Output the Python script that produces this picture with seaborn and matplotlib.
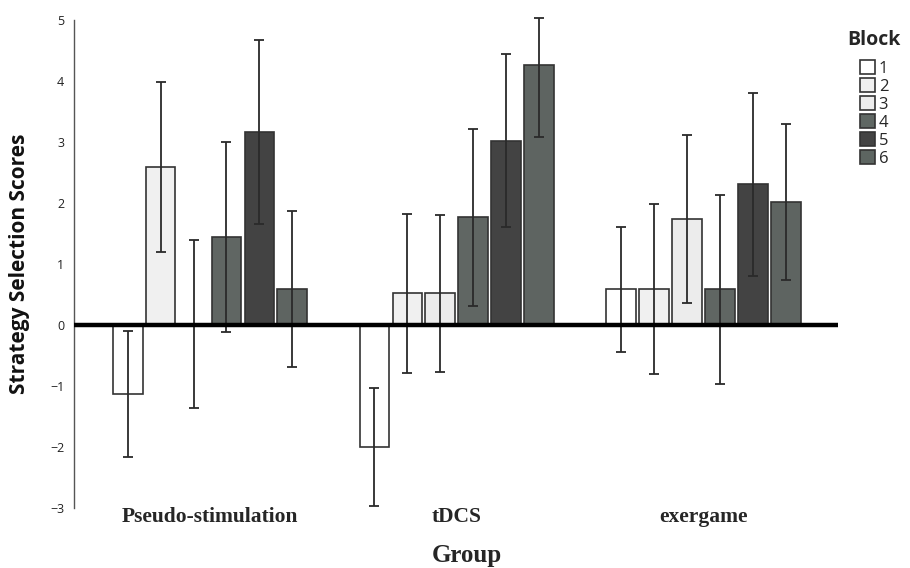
import numpy as np
import pandas as pd
import seaborn as sns
import matplotlib.pyplot as plt
from matplotlib.patches import Patch

# ---------------- data ----------------
groups = ["Pseudo-stimulation", "tDCS", "exergame"]
blocks = ["1", "2", "3", "4", "5", "6"]

pseudo_mean = [-1.13, 2.59, 0.00, 1.44, 3.16, 0.59]
tdcs_mean = [-2.00, 0.52, 0.52, 1.77, 3.02, 4.27]
exergame_mean = [0.59, 0.59, 1.74, 0.59, 2.31, 2.02]

pseudo_low = [-2.16, 1.20, -1.36, -0.11, 1.66, -0.69]
tdcs_low = [-2.97, -0.79, -0.77, 0.31, 1.61, 3.08]
exergame_low = [-0.44, -0.80, 0.36, -0.97, 0.80, 0.74]

pseudo_high = [-0.10, 3.98, 1.39, 3.00, 4.67, 1.87]
tdcs_high = [-1.03, 1.82, 1.80, 3.22, 4.44, 5.03]
exergame_high = [1.61, 1.98, 3.11, 2.13, 3.80, 3.30]

block_colors = ["#ffffff", "#f0f0f0", "#ececec", "#5f6763", "#434343", "#5d6561"]

means = [pseudo_mean, tdcs_mean, exergame_mean]
lows = [pseudo_low, tdcs_low, exergame_low]
highs = [pseudo_high, tdcs_high, exergame_high]

rows = []
for g, m, lo, hi in zip(groups, means, lows, highs):
    for b, mv, lv, hv in zip(blocks, m, lo, hi):
        rows.append({"Group": g, "Block": b, "Score": mv, "Low": lv, "High": hv})
df = pd.DataFrame(rows)

# ---------------- figure ----------------
sns.set_style("white")
plt.rcParams["font.family"] = ["Open Sans", "DejaVu Sans"]

fig = plt.figure(figsize=(9.10, 5.68), dpi=100)
ax = fig.add_axes([74 / 910, 1 - 508 / 568, (838 - 74) / 910, (508 - 20) / 568])

sns.barplot(
    data=df, x="Group", y="Score", hue="Block",
    order=groups, hue_order=blocks, palette=block_colors,
    width=0.8, gap=0.1, errorbar=None, legend=False,
    edgecolor="#333333", linewidth=1.2, ax=ax,
)

# error bars positioned from the drawn bars
bar_containers = list(ax.containers)
for bi, cont in enumerate(bar_containers):
    for gi, patch in enumerate(cont.patches):
        xc = patch.get_x() + patch.get_width() / 2
        row = df[(df["Group"] == groups[gi]) & (df["Block"] == blocks[bi])].iloc[0]
        m = row["Score"]
        ax.errorbar(
            xc, m, yerr=[[m - row["Low"]], [row["High"] - m]],
            fmt="none", ecolor="#2a2a2a", elinewidth=1.3,
            capsize=3.5, capthick=1.3, clip_on=False, zorder=4,
        )

ax.axhline(0, color="black", lw=3.2, zorder=5)

ax.set_ylim(-3, 5)
ax.set_xlim(-0.551, 2.545)
ax.set_yticks(range(-3, 6))
ax.tick_params(axis="y", length=0, pad=7, labelsize=9, labelcolor="#222222")
ax.tick_params(axis="x", length=0, pad=-1)
ax.set_xticks(range(len(groups)))
ax.set_xticklabels(groups, fontsize=15.5, fontweight="bold",
                   family=["Liberation Serif", "DejaVu Serif"])

for s in ["top", "right", "bottom"]:
    ax.spines[s].set_visible(False)
ax.spines["left"].set_color("#555555")
ax.spines["left"].set_linewidth(1.0)

ax.set_ylabel("Strategy Selection Scores", fontsize=15, fontweight="bold",
              color="#111111")
ax.yaxis.set_label_coords(-0.058, 0.5)
ax.set_xlabel("Group", fontsize=18, fontweight="bold",
              family=["Liberation Serif", "DejaVu Serif"])
ax.xaxis.set_label_coords(0.514, -0.074)

handles = [Patch(facecolor=c, edgecolor="#333333", linewidth=1.2) for c in block_colors]
leg = fig.legend(
    handles, blocks, title="Block", loc="upper right",
    bbox_to_anchor=(909 / 910, 1 - 22 / 568), frameon=False,
    fontsize=12, title_fontproperties={"weight": "bold", "size": 14},
    handlelength=0.9, handleheight=0.9, handletextpad=0.25,
    labelspacing=0.08, borderpad=0.0,
)
leg._legend_box.align = "center"
leg._legend_box.sep = 7

fig.savefig("out.png", dpi=100)
